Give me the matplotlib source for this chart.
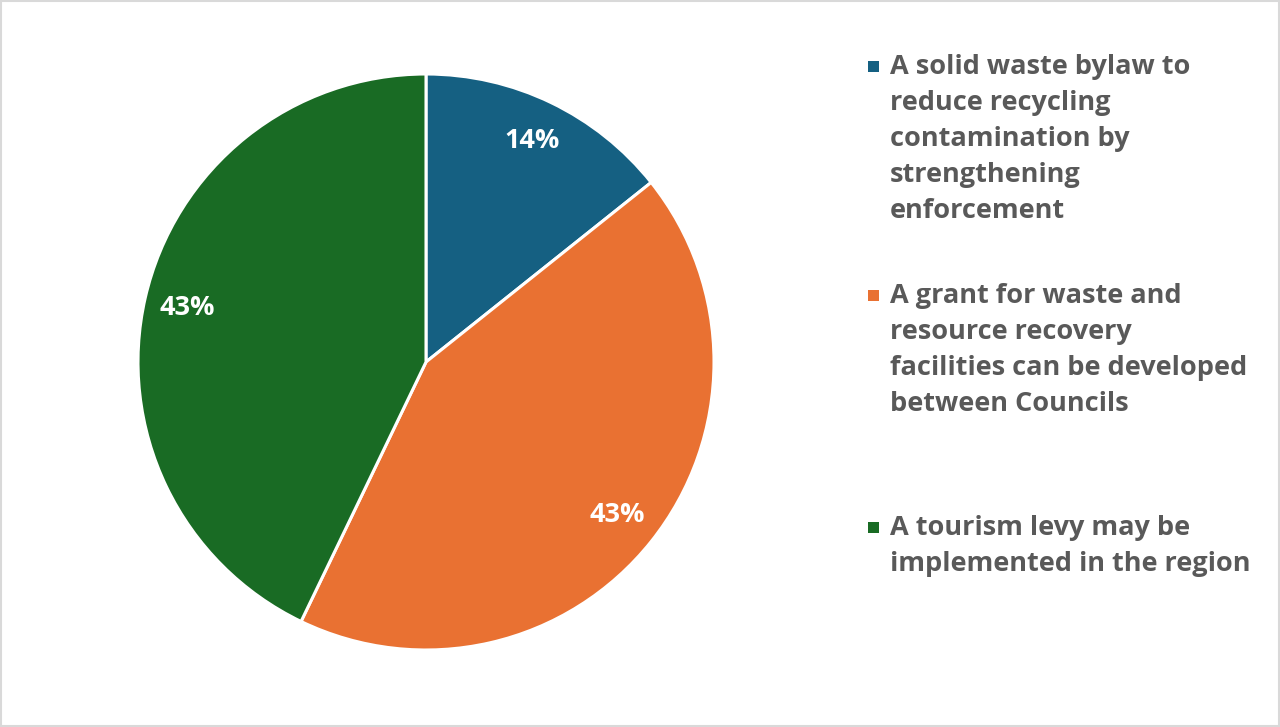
import matplotlib
matplotlib.use("Agg")
import matplotlib.pyplot as plt
from matplotlib.patches import Rectangle

# Share of submissions supporting each initiative
labels = [
    "A solid waste bylaw to\nreduce recycling\ncontamination by\nstrengthening\nenforcement",
    "A grant for waste and\nresource recovery\nfacilities can be developed\nbetween Councils",
    "A tourism levy may be\nimplemented in the region",
]
values = [1, 3, 3]
colors = ["#156082", "#E97132", "#196B24"]

W, H = 1280, 727
fig = plt.figure(figsize=(W / 100, H / 100), dpi=100)
fig.patch.set_facecolor("white")

font = "Open Sans"
text_color = "#595959"

# Pie placed by pixel geometry: centre (426, 362), radius 288
cx, cy, r = 426, 362, 288
ax = fig.add_axes([(cx - r) / W, (H - cy - r) / H, 2 * r / W, 2 * r / H])
wedges, _, autotexts = ax.pie(
    values,
    colors=colors,
    startangle=90,
    counterclock=False,
    radius=1,
    autopct=lambda p: f"{p:.0f}%",
    pctdistance=0.85,
    wedgeprops=dict(edgecolor="white", linewidth=2.2),
    textprops=dict(color="white", fontsize=19.5, fontweight="bold", family=font),
)
ax.set_xlim(-1, 1)
ax.set_ylim(-1, 1)
ax.set_aspect("equal")
ax.axis("off")

# Legend drawn line by line at fixed baselines
first_baselines = [74, 303, 535]
line_step = 36
for label, color, y0 in zip(labels, colors, first_baselines):
    fig.patches.append(Rectangle(((868) / W, (H - y0 + 2) / H), 11 / W, 11 / H,
                                 transform=fig.transFigure, facecolor=color,
                                 edgecolor="none"))
    for i, line in enumerate(label.split("\n")):
        fig.text(890 / W, (H - (y0 + i * line_step)) / H, line,
                 ha="left", va="baseline", fontsize=19.5, fontweight="bold",
                 color=text_color, family=font)

# Light frame around the chart area
fig.patches.append(Rectangle((0.0008, 0.0014), 0.9984, 0.9972,
                             transform=fig.transFigure, facecolor="none",
                             edgecolor="#D9D9D9", linewidth=1.5))

fig.savefig("out.png", dpi=100, facecolor="white")
